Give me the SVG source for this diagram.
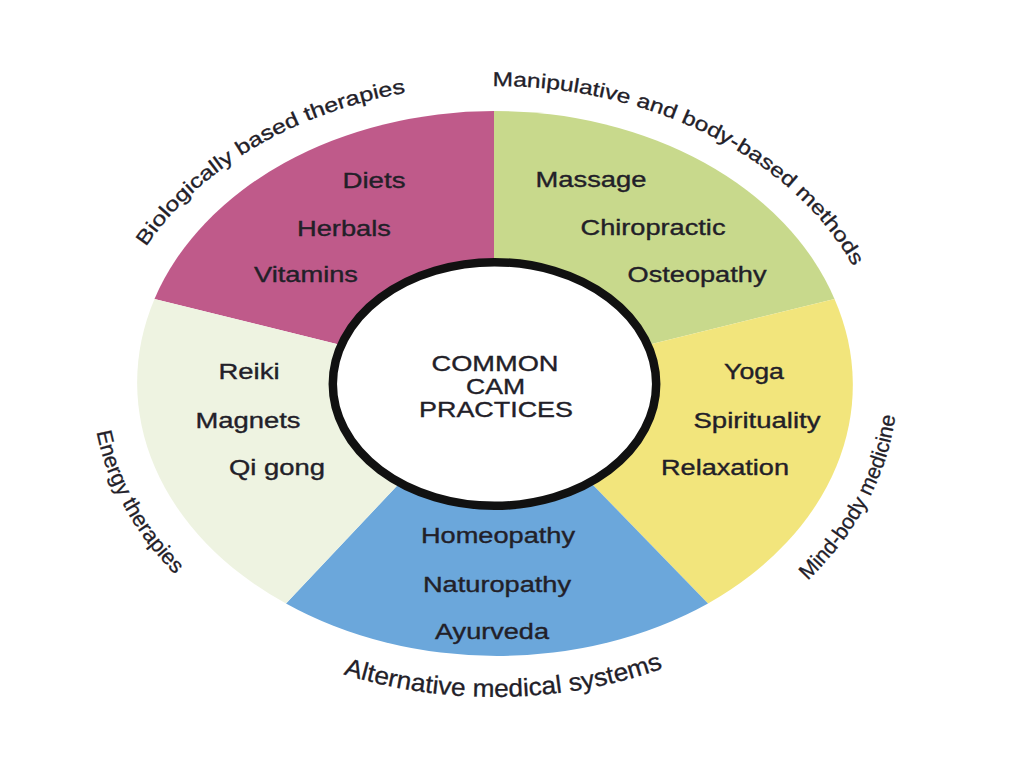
<svg xmlns="http://www.w3.org/2000/svg" xmlns:xlink="http://www.w3.org/1999/xlink" width="1024" height="768" viewBox="0 0 1024 768">
<style>
.item{font-family:"Liberation Sans",Arial,Helvetica,sans-serif;font-size:21.5px;fill:#222028;stroke:#222028;stroke-width:0.35px;text-anchor:middle;}
.center{font-family:"Liberation Sans",Arial,Helvetica,sans-serif;font-size:21.5px;fill:#222028;stroke:#222028;stroke-width:0.35px;text-anchor:middle;}
.label{font-family:"Liberation Sans",Arial,Helvetica,sans-serif;fill:#222028;stroke:#222028;stroke-width:0.3px;}
.seg{stroke:none;}
</style>
<defs>
<path id="p-bio" d="M146,247 A391,298 0 0 1 426.8,89.5"/>
<path id="p-man" d="M492.5,86 A390,297 0 0 1 871.2,306.1"/>
<path id="p-mind" d="M807.7,580.6 A403,314 0 0 0 897.5,383"/>
<path id="p-alt" d="M343.5,674.1 A403,314 0 0 0 671.2,665.2"/>
<path id="p-energy" d="M96.5,432.1 A403,314 0 0 0 195,593.1"/>
</defs>
<rect width="1024" height="768" fill="#ffffff"/>

<g id="biologically">
<path class="seg" fill="#BF5A8A" d="M494,383 L494,111 A357.5,272 0 0 0 154.5,298.9 Z"/>
<text class="item" x="374" y="188" textLength="63" lengthAdjust="spacingAndGlyphs">Diets</text>
<text class="item" x="344" y="236" textLength="94" lengthAdjust="spacingAndGlyphs">Herbals</text>
<text class="item" x="306" y="282" textLength="104" lengthAdjust="spacingAndGlyphs">Vitamins</text>
</g>

<g id="manipulative">
<path class="seg" fill="#C8D98C" d="M494,383 L834.5,298.9 A357.5,272 0 0 0 494,111 Z"/>
<text class="item" x="591" y="187" textLength="111" lengthAdjust="spacingAndGlyphs">Massage</text>
<text class="item" x="653" y="235" textLength="145" lengthAdjust="spacingAndGlyphs">Chiropractic</text>
<text class="item" x="697" y="282" textLength="139" lengthAdjust="spacingAndGlyphs">Osteopathy</text>
</g>

<g id="mindbody">
<path class="seg" fill="#F2E57C" d="M494,383 L708,603.5 A357.5,272 0 0 0 834.5,298.9 Z"/>
<text class="item" x="754" y="379" textLength="60" lengthAdjust="spacingAndGlyphs">Yoga</text>
<text class="item" x="757" y="428" textLength="127" lengthAdjust="spacingAndGlyphs">Spirituality</text>
<text class="item" x="725" y="475" textLength="128" lengthAdjust="spacingAndGlyphs">Relaxation</text>
</g>

<g id="alternative">
<path class="seg" fill="#6BA7DB" d="M494,383 L286,603.5 A357.5,272 0 0 0 708,603.5 Z"/>
<text class="item" x="498" y="543" textLength="154" lengthAdjust="spacingAndGlyphs">Homeopathy</text>
<text class="item" x="497" y="592" textLength="148" lengthAdjust="spacingAndGlyphs">Naturopathy</text>
<text class="item" x="492" y="639" textLength="114" lengthAdjust="spacingAndGlyphs">Ayurveda</text>
</g>

<g id="energy">
<path class="seg" fill="#EEF3E1" d="M494,383 L154.5,298.9 A357.5,272 0 0 0 286,603.5 Z"/>
<text class="item" x="249" y="379" textLength="61" lengthAdjust="spacingAndGlyphs">Reiki</text>
<text class="item" x="248" y="428" textLength="105" lengthAdjust="spacingAndGlyphs">Magnets</text>
<text class="item" x="277" y="475" textLength="96" lengthAdjust="spacingAndGlyphs">Qi gong</text>
</g>

<g id="center">
<ellipse cx="494.5" cy="384" rx="161.7" ry="121.8" fill="#ffffff" stroke="#111111" stroke-width="8.5"/>
<text class="center" x="495" y="371" textLength="127" lengthAdjust="spacingAndGlyphs">COMMON</text>
<text class="center" x="495.5" y="394" textLength="59" lengthAdjust="spacingAndGlyphs">CAM</text>
<text class="center" x="496" y="417" textLength="154" lengthAdjust="spacingAndGlyphs">PRACTICES</text>
</g>

<g id="labels">
<text class="label" font-size="20"><textPath xlink:href="#p-bio" href="#p-bio" textLength="310" lengthAdjust="spacingAndGlyphs">Biologically based therapies</textPath></text>
<text class="label" font-size="20"><textPath xlink:href="#p-man" href="#p-man" textLength="422" lengthAdjust="spacingAndGlyphs">Manipulative and body-based methods</textPath></text>
<text class="label" font-size="21.5"><textPath xlink:href="#p-mind" href="#p-mind" textLength="190" lengthAdjust="spacingAndGlyphs">Mind-body medicine</textPath></text>
<text class="label" font-size="25"><textPath xlink:href="#p-alt" href="#p-alt" textLength="325" lengthAdjust="spacingAndGlyphs">Alternative medical systems</textPath></text>
<text class="label" font-size="21.5"><textPath xlink:href="#p-energy" href="#p-energy" textLength="165" lengthAdjust="spacingAndGlyphs">Energy therapies</textPath></text>
</g>
</svg>
